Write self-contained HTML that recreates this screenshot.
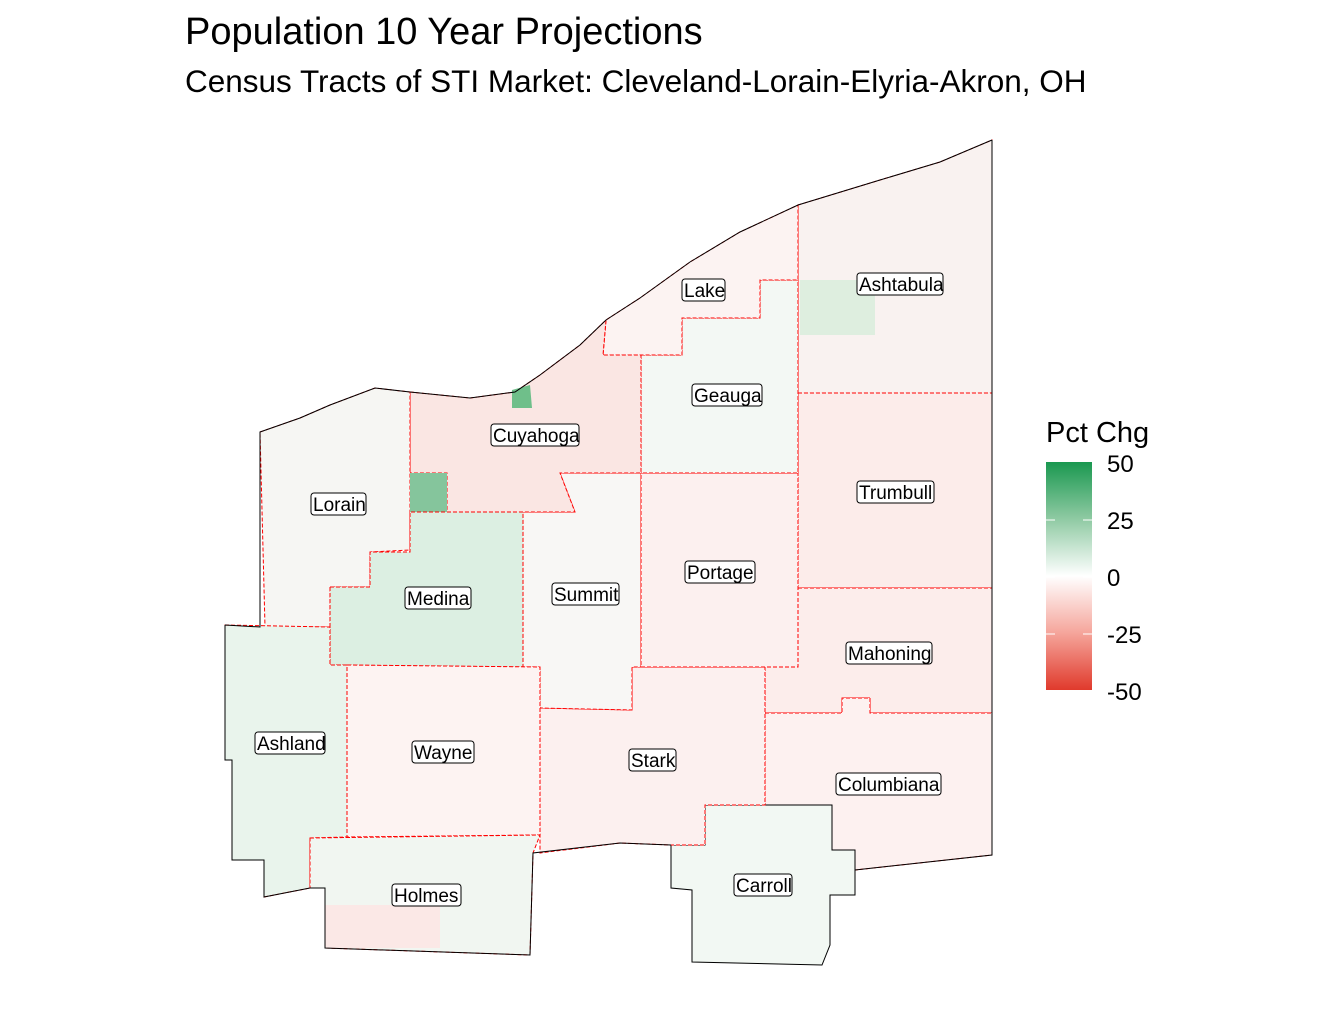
<!DOCTYPE html>
<html><head><meta charset="utf-8"><style>
body{margin:0;background:#fff;}
svg text{font-family:"Liberation Sans",Arial,sans-serif;}
</style></head><body>
<svg width="1344" height="1008" viewBox="0 0 1344 1008" xmlns="http://www.w3.org/2000/svg">
<defs>
<linearGradient id="lg" x1="0" y1="0" x2="0" y2="1">
<stop offset="0" stop-color="#1a9850"/>
<stop offset="0.25" stop-color="#8fcaa3"/>
<stop offset="0.5" stop-color="#ffffff"/>
<stop offset="0.75" stop-color="#f5a59b"/>
<stop offset="1" stop-color="#e03a2c"/>
</linearGradient>
</defs>
<text x="185" y="44" font-size="38" fill="#000">Population 10 Year Projections</text>
<text x="185" y="92" font-size="31.5" fill="#000">Census Tracts of STI Market: Cleveland-Lorain-Elyria-Akron, OH</text>

<g stroke="#f00" stroke-width="1" stroke-dasharray="4,2">
<polygon points="798,205 880,180 940,162 992,140 992,393 798,393" fill="#f9f2f0"/>
<polygon points="800,280 875,280 875,335 800,335" fill="#deeedf" stroke="none"/>
<polygon points="798,393 992,393 992,588 798,588" fill="#fcecea"/>
<polygon points="798,588 992,588 992,713 870,713 870,698 842,698 842,713 765,713 765,667 798,667" fill="#fcedeb"/>
<polygon points="765,713 842,713 842,698 870,698 870,713 992,713 992,855 855,870 855,850 832,850 832,805 765,805" fill="#fdf1f0"/>
<polygon points="705,805 832,805 832,850 855,850 855,895 830,895 830,945 822,965 692,962 692,890 671,888 671,845 705,845" fill="#f2f8f3" stroke="#000" stroke-dasharray="none"/>
<polygon points="632,667 765,667 765,805 705,805 705,845 671,845 620,843 540,853 540,708 632,710" fill="#fcf0ef"/>
<polygon points="523,512 575,512 560,473 641,473 641,667 632,667 632,710 540,708 540,667 523,667" fill="#f8f7f5"/>
<polygon points="641,473 798,473 798,667 641,667" fill="#fcf0ef"/>
<polygon points="641,355 682,355 682,318 760,318 760,280 798,280 798,473 641,473" fill="#f3f8f4"/>
<polygon points="603,355 606,320 640,298 690,262 740,232 798,205 798,280 760,280 760,318 682,318 682,355" fill="#fcf3f2"/>
<polygon points="410,392 470,398 515,392 540,375 580,345 606,320 603,355 641,355 641,473 560,473 575,512 447,512 447,473 410,473" fill="#fae6e3"/>
<polygon points="512,390 530,385 532,408 512,408" fill="#6fbf8a" stroke="none"/>
<polygon points="260,432 300,418 330,405 375,388 410,392 410,550 370,552 370,587 330,587 330,627 265,627" fill="#f6f6f3"/>
<polygon points="410,473 447,473 447,512 410,512" fill="#85c59c" stroke="none"/>
<polygon points="330,587 370,587 370,552 410,552 410,512 523,512 523,667 330,665" fill="#dcefe2"/>
<polygon points="225,625 330,627 330,665 347,665 347,837 310,838 310,888 264,897 264,860 232,860 232,760 225,760" fill="#e9f4ec"/>
<polygon points="347,665 540,667 540,835 347,837" fill="#fdf3f2"/>
<polygon points="310,838 540,835 533,853 530,955 325,948 325,888 310,888" fill="#f1f6f1"/>
<polygon points="325,905 440,905 440,948 325,948" fill="#fbe8e6" stroke="none"/>
</g>
<polyline points="992,140 992,855 855,870" fill="none" stroke="#000" stroke-width="1"/>
<polyline points="225,625 260,627 260,432 300,418 330,405 375,388 410,392 470,398 515,392 540,375 580,345 606,320 640,298 690,262 740,232 798,205 880,180 940,162 992,140" fill="none" stroke="#000" stroke-width="1"/>
<polyline points="225,625 225,760 232,760 232,860 264,860 264,897 310,888 325,888 325,948 530,955 533,853 620,843 671,845" fill="none" stroke="#000" stroke-width="1"/>

<g font-size="19" fill="#000">
<g stroke="#000" stroke-width="1" fill="#fff">
<rect x="682" y="279" width="43" height="22" rx="3"/>
<rect x="857" y="273" width="86" height="22" rx="3"/>
<rect x="692" y="384" width="70" height="22" rx="3"/>
<rect x="491" y="424" width="88" height="22" rx="3"/>
<rect x="857" y="481" width="77" height="22" rx="3"/>
<rect x="311" y="493" width="55" height="22" rx="3"/>
<rect x="685" y="561" width="70" height="22" rx="3"/>
<rect x="552" y="583" width="67" height="22" rx="3"/>
<rect x="405" y="587" width="66" height="22" rx="3"/>
<rect x="846" y="642" width="86" height="22" rx="3"/>
<rect x="255" y="732" width="70" height="22" rx="3"/>
<rect x="412" y="741" width="62" height="22" rx="3"/>
<rect x="629" y="749" width="47" height="22" rx="3"/>
<rect x="836" y="773" width="105" height="22" rx="3"/>
<rect x="734" y="874" width="58" height="22" rx="3"/>
<rect x="392" y="884" width="69" height="22" rx="3"/>
</g>
<text x="684" y="297">Lake</text>
<text x="859" y="291">Ashtabula</text>
<text x="694" y="402">Geauga</text>
<text x="493" y="442">Cuyahoga</text>
<text x="859" y="499">Trumbull</text>
<text x="313" y="511">Lorain</text>
<text x="687" y="579">Portage</text>
<text x="554" y="601">Summit</text>
<text x="407" y="605">Medina</text>
<text x="848" y="660">Mahoning</text>
<text x="257" y="750">Ashland</text>
<text x="414" y="759">Wayne</text>
<text x="631" y="767">Stark</text>
<text x="838" y="791">Columbiana</text>
<text x="736" y="892">Carroll</text>
<text x="394" y="902">Holmes</text>
</g>

<text x="1046" y="442" font-size="29">Pct Chg</text>
<rect x="1046" y="462" width="46" height="228" fill="url(#lg)"/>
<g stroke="#fff" stroke-width="1">
<line x1="1046" y1="520" x2="1055" y2="520"/><line x1="1083" y1="520" x2="1092" y2="520"/>
<line x1="1046" y1="577" x2="1055" y2="577"/><line x1="1083" y1="577" x2="1092" y2="577"/>
<line x1="1046" y1="634" x2="1055" y2="634"/><line x1="1083" y1="634" x2="1092" y2="634"/>
</g>
<g font-size="24">
<text x="1107" y="472">50</text>
<text x="1107" y="529">25</text>
<text x="1107" y="586">0</text>
<text x="1107" y="643">-25</text>
<text x="1107" y="700">-50</text>
</g>
</svg>
</body></html>
